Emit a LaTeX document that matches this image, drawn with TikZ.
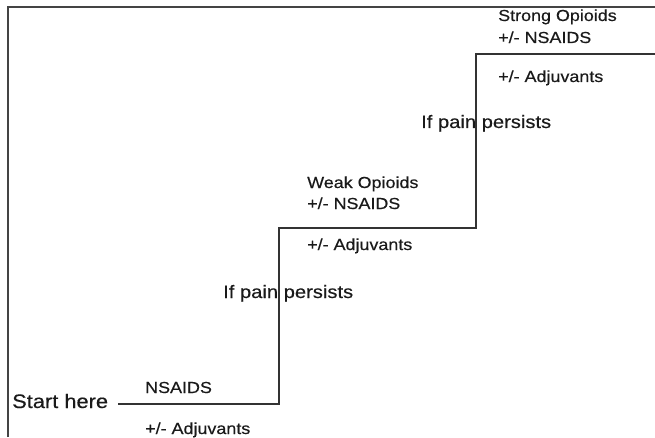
\documentclass[tikz,border=0pt]{standalone}
\usepackage{fontspec}
\setmainfont{Liberation Sans}
\newfontfamily\wide[FakeStretch=1.12,FakeBold=0.4]{Liberation Sans}
\definecolor{ink}{HTML}{1A1A1A}
\definecolor{frame}{HTML}{444444}
\definecolor{stair}{HTML}{333333}
\begin{document}
\begin{tikzpicture}[x=1pt,y=1pt,
  lbl/.style={anchor=base west,inner sep=0pt,text=ink,font=\wide\fontsize{16}{18}\selectfont},
  biglbl/.style={anchor=base west,inner sep=0pt,text=ink,font=\wide\fontsize{18}{21}\selectfont},
  stairline/.style={draw=stair,line width=2pt,line join=miter},
  frameline/.style={draw=frame,line width=1.2pt}]
\useasboundingbox (0,0) rectangle (655,437);
% frame (top and left)
\coordinate (fb) at (8,0);
\coordinate (fc) at (8,430);
\coordinate (fr) at (655,430);
\draw[frameline] (fb) -- (fc) -- (fr);
% staircase
\coordinate (s0) at (118,33);
\coordinate (s1) at (279,33);
\coordinate (s2) at (279,209);
\coordinate (s3) at (476,209);
\coordinate (s4) at (476,383);
\coordinate (s5) at (655,383);
\draw[stairline] (s0) -- (s1) -- (s2) -- (s3) -- (s4) -- (s5);
% labels
\node[anchor=base west,inner sep=0pt,text=ink,font=\wide\fontsize{19.5}{22}\selectfont] (start) at (12,29) {Start here};
\node[lbl] (nsaidsA) at (145,44) {NSAIDS};
\node[lbl] (adjA) at (145,3) {+/- Adjuvants};
\node[biglbl] (painA) at (223,139) {If pain persists};
\node[lbl] (weak) at (307,249) {Weak Opioids};
\node[lbl] (nsaidsB) at (307,228) {+/- NSAIDS};
\node[lbl] (adjB) at (307,187) {+/- Adjuvants};
\node[biglbl] (painB) at (421,309) {If pain persists};
\node[lbl] (strong) at (498,416) {Strong Opioids};
\node[lbl] (nsaidsC) at (498,394) {+/- NSAIDS};
\node[lbl] (adjC) at (498,355) {+/- Adjuvants};
\end{tikzpicture}
\end{document}
